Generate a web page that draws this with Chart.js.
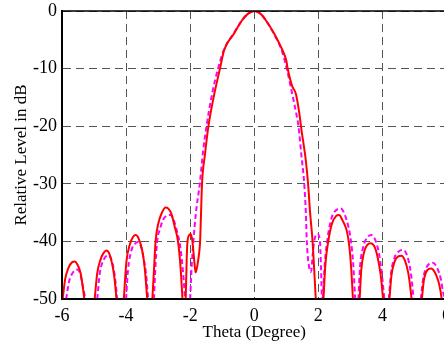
<!DOCTYPE html>
<html>
<head>
<meta charset="utf-8">
<script src="https://cdn.jsdelivr.net/npm/chart.js@4/dist/chart.umd.min.js"></script>
<style>
  html, body { margin: 0; padding: 0; background: #fff; overflow: hidden; }
  #wrap { position: relative; width: 457px; height: 343px; }
</style>
</head>
<body>
<div id="wrap"><canvas id="beamChart"></canvas></div>
<script>
// red solid pattern (null = break between lobes)
const thetaRed = [
  -5.98, -5.90, -5.80, -5.68, -5.61, -5.52, -5.42, -5.30,
  -5.15,
  -4.98, -4.90, -4.80, -4.70, -4.61, -4.52, -4.43, -4.36, -4.30,
  -4.18,
  -4.07, -3.99, -3.88, -3.78, -3.70, -3.60, -3.50, -3.42, -3.34,
  -3.26,
  -3.18, -3.13, -3.08, -3.00, -2.88, -2.77, -2.68, -2.58, -2.48, -2.38, -2.30, -2.24,
  -2.19,
  -2.14, -2.09, -2.03, -1.98, -1.93, -1.87, -1.83, -1.77, -1.72, -1.69, -1.66, -1.63, -1.54, -1.43, -1.25, -1.07, -0.94, -0.63, -0.38, -0.20, 0,
  0.20, 0.36, 0.62, 0.88, 1.00, 1.04, 1.18, 1.30, 1.40, 1.47, 1.61, 1.68, 1.74, 1.82, 1.92,
  2.04,
  2.16, 2.22, 2.31, 2.42, 2.55, 2.65, 2.75, 2.88, 2.96, 3.03, 3.08,
  3.18,
  3.29, 3.34, 3.42, 3.53, 3.63, 3.76, 3.86, 3.95, 4.02,
  4.12,
  4.22, 4.28, 4.38, 4.50, 4.59, 4.70, 4.80, 4.86, 4.91,
  5.06,
  5.23, 5.30, 5.40, 5.52, 5.63, 5.74, 5.81, 5.85
];
const levelRed = [
  -50, -46.5, -44.6, -43.6, -43.5, -44.0, -45.5, -50,
  null,
  -50, -45.5, -43.2, -42.0, -41.6, -42.2, -44.0, -46.5, -50,
  null,
  -50, -43.5, -40.5, -39.2, -38.9, -39.6, -41.5, -44.5, -50,
  null,
  -50, -45, -40, -37.0, -35.0, -34.1, -34.3, -35.3, -37.5, -40, -44.5, -50,
  null,
  -50, -40.5, -38.9, -38.7, -40, -43.5, -45.4, -44, -42, -40, -35, -30, -25, -20, -14.5, -10, -6.8, -3.9, -1.6, -0.5, 0,
  -0.5, -1.6, -3.9, -6.8, -8.6, -9.9, -13, -14.4, -17.5, -20.5, -26, -30, -34.8, -40, -50,
  null,
  -50, -44, -40, -37, -35.6, -35.4, -36.3, -38.0, -40.5, -45, -50,
  null,
  -50, -45, -42, -40.6, -40.3, -41, -43, -46, -50,
  null,
  -50, -46, -43.5, -42.6, -42.5, -43.3, -45.3, -47.5, -50,
  null,
  -50, -46.5, -45, -44.7, -45.3, -46.8, -48.5, -50
];

// magenta dashed pattern
const thetaMag = [
  -5.87, -5.78, -5.66, -5.53, -5.44, -5.36, -5.27,
  -5.10,
  -4.90, -4.82, -4.70, -4.56, -4.47, -4.38, -4.32, -4.28,
  -4.14,
  -4.00, -3.94, -3.83, -3.72, -3.63, -3.54, -3.45, -3.37, -3.31,
  -3.22,
  -3.13, -3.08, -3.03, -2.94, -2.84, -2.72, -2.61, -2.50, -2.40, -2.32, -2.22, -2.16,
  -2.08,
  -2.00, -1.95, -1.90, -1.82, -1.70, -1.60, -1.49, -1.32, -1.13, -0.95, -0.64, -0.38, -0.20, 0,
  0.20, 0.36, 0.62, 0.86, 1.01, 1.17, 1.30, 1.38, 1.47, 1.56, 1.61, 1.64, 1.70, 1.77, 1.83, 1.87, 1.97, 2.05, 2.08, 2.11,
  2.125,
  2.14, 2.20, 2.30, 2.42, 2.55, 2.70, 2.82, 2.94, 3.02, 3.09, 3.15,
  3.20,
  3.25, 3.30, 3.40, 3.53, 3.66, 3.78, 3.89, 3.98, 4.06,
  4.13,
  4.20, 4.27, 4.38, 4.52, 4.65, 4.76, 4.86, 4.93, 4.97,
  5.08,
  5.20, 5.27, 5.38, 5.57, 5.70, 5.82, 5.90, 5.95
];
const levelMag = [
  -50, -47, -45.4, -44.9, -45.5, -47.5, -50,
  null,
  -50, -45.5, -43.2, -42.4, -43.0, -45.0, -47.5, -50,
  null,
  -50, -45, -41.5, -40.4, -40.1, -40.8, -43, -46, -50,
  null,
  -50, -44, -40, -37.8, -36.2, -35.5, -35.4, -36.5, -38.5, -40.5, -45.5, -50,
  null,
  -50, -44, -40, -35, -30, -24.5, -20, -14.5, -10, -6.8, -3.9, -1.6, -0.5, 0,
  -0.5, -1.6, -4.0, -6.9, -9.9, -14, -17.5, -20, -25, -30, -35, -40, -44, -45.3, -42, -40, -38.7, -40, -44, -50,
  null,
  -50, -44, -39, -35.8, -34.6, -34.3, -35.3, -37.5, -40, -44, -50,
  null,
  -50, -44.5, -41, -39.3, -38.9, -39.8, -42, -45.5, -50,
  null,
  -50, -45.5, -42.8, -41.7, -41.5, -42.3, -44.5, -47.5, -50,
  null,
  -50, -46.5, -44.5, -43.7, -44.5, -46.5, -49, -50
];

function toPoints(xs, ys) {
  return xs.map((x, i) => ({ x: x, y: ys[i] }));
}

// black frame round the plot area (matlab style box)
const boxFrame = {
  id: 'boxFrame',
  afterDraw(chart) {
    const a = chart.chartArea;
    const ctx = chart.ctx;
    ctx.save();
    ctx.strokeStyle = '#000';
    ctx.lineWidth = 1.5;
    ctx.strokeRect(a.left, a.top, a.right - a.left, a.bottom - a.top);
    ctx.restore();
  }
};

const serif = 'Liberation Serif, Times New Roman, serif';
const ctx = document.getElementById('beamChart').getContext('2d');

new Chart(ctx, {
  type: 'line',
  data: {
    datasets: [
      {
        label: 'red',
        data: toPoints(thetaRed, levelRed),
        borderColor: '#ff0000',
        borderWidth: 2,
        pointRadius: 0,
        cubicInterpolationMode: 'monotone',
        spanGaps: false
      },
      {
        label: 'magenta',
        data: toPoints(thetaMag, levelMag),
        borderColor: '#ff00ff',
        borderWidth: 2,
        borderDash: [5, 3],
        pointRadius: 0,
        cubicInterpolationMode: 'monotone',
        spanGaps: false
      }
    ]
  },
  options: {
    responsive: true,
    maintainAspectRatio: false,
    animation: false,
    layout: { padding: { top: 11, left: 0, right: 0, bottom: 0 } },
    plugins: {
      legend: { display: false },
      tooltip: { enabled: false }
    },
    scales: {
      x: {
        type: 'linear',
        min: -6,
        max: 6,
        ticks: {
          stepSize: 2,
          color: '#000',
          padding: 6,
          font: { family: serif, size: 18 }
        },
        grid: { color: '#555', lineWidth: 1, drawTicks: false },
        border: { color: '#000', width: 2, dash: [8, 5] },
        title: {
          display: true,
          text: 'Theta (Degree)',
          color: '#000',
          padding: { top: 0, bottom: 0 },
          font: { family: serif, size: 17 }
        },
        afterFit(scale) { scale.height = 44; }
      },
      y: {
        min: -50,
        max: 0,
        ticks: {
          stepSize: 10,
          color: '#000',
          padding: 5,
          font: { family: serif, size: 18, lineHeight: 0.6 }
        },
        grid: { color: '#555', lineWidth: 1, drawTicks: false },
        border: { color: '#000', width: 2, dash: [8, 5] },
        title: {
          display: true,
          text: 'Relative Level in dB',
          color: '#000',
          padding: { top: 11, bottom: 0 },
          font: { family: serif, size: 17 }
        },
        afterFit(scale) { scale.width = 62; }
      }
    }
  },
  plugins: [boxFrame]
});
</script>
</body>
</html>
